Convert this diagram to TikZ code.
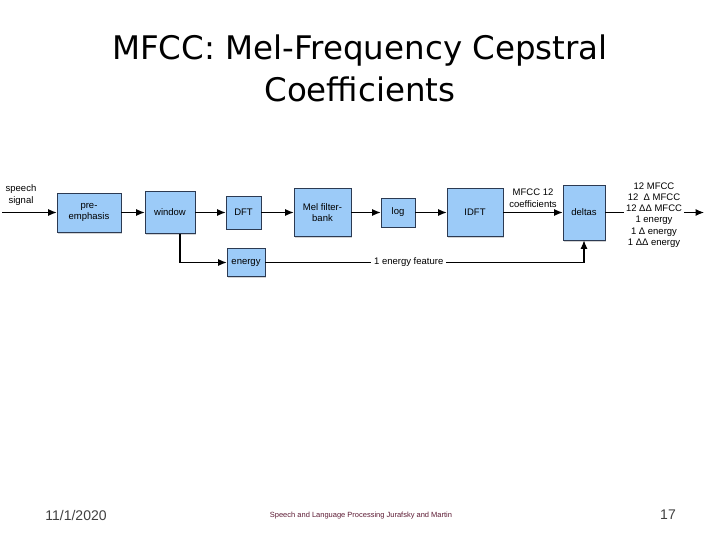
\documentclass[tikz,border=0pt]{standalone}
\usepackage{fontspec}
\setmainfont{Liberation Sans}
\newfontfamily\titlefont{DejaVu Sans}
\definecolor{BoxFill}{HTML}{9CCBF8}
\definecolor{BoxEdge}{HTML}{2C3A52}
\definecolor{FootRed}{HTML}{5C1A33}
\usetikzlibrary{arrows.meta,calc,positioning,shadows}

\begin{document}
\begin{tikzpicture}[x=1pt,y=-1pt,>={Latex[length=8.5pt,width=7pt]},
  blk/.style={draw=BoxEdge,fill=BoxFill,line width=0.7pt,align=center,inner sep=1pt,
    font=\fontsize{9.5}{11}\selectfont,
    drop shadow={shadow xshift=1pt,shadow yshift=-1.5pt,opacity=0.35}},
  lbl/.style={align=center,font=\fontsize{9.5}{11.5}\selectfont,inner sep=1.5pt},
  flow/.style={->,line width=1.1pt}]
  \useasboundingbox (0,0) rectangle (720,540);
  \node[align=center,font=\titlefont\fontsize{32.5}{42}\selectfont] (title) at (360,68) {MFCC: Mel-Frequency Cepstral\\Coefficients};
  % processing chain
  \node[blk,minimum width=64pt,minimum height=39pt] (pre) at (89,212.5) {pre-\\emphasis};
  \node[blk,minimum width=50pt,minimum height=42pt] (win) at (170,212.5) {window};
  \node[blk,minimum width=35pt,minimum height=33pt] (dft) at (243.5,212.5) {DFT};
  \node[blk,minimum width=57pt,minimum height=48pt] (mel) at (322.5,212.5) {Mel filter-\\bank};
  \node[blk,minimum width=34pt,minimum height=29pt] (log) at (398,212.5) {log};
  \node[blk,minimum width=56pt,minimum height=48pt] (idft) at (475,212.5) {IDFT};
  \node[blk,minimum width=42pt,minimum height=55pt] (deltas) at (584,212.5) {deltas};
  \node[blk,minimum width=38pt,minimum height=28pt] (energy) at (246,262.5) {energy};
  \node[lbl] (sig) at (21,195) {speech\\signal};
  \node[lbl,font=\fontsize{9.5}{11.3}\selectfont,inner xsep=2pt] (feats) at (654,215)
    {12 MFCC\\12 \ Δ MFCC\\12 ΔΔ MFCC\\1 energy\\1 Δ energy\\1 ΔΔ energy};
  \coordinate (src) at (2,212.5);
  \coordinate (out) at (704,212.5);
  % connectors
  \draw[flow] (src) -- (pre);
  \draw[flow] (pre) -- (win);
  \draw[flow] (win) -- (dft);
  \draw[flow] (dft) -- (mel);
  \draw[flow] (mel) -- (log);
  \draw[flow] (log) -- (idft);
  \draw[flow] (idft) -- node[lbl,above=3pt] {MFCC 12\\coefficients} (deltas);
  \draw[flow] ([xshift=10pt]win.south) |- (energy.west);
  \draw[flow] (energy.east) -- node[lbl,fill=white,pos=0.45,inner xsep=3pt] {1 energy feature} (energy.east -| deltas.south) -- (deltas.south);
  \draw[line width=1.1pt] (deltas.east) -- (feats.west |- deltas.east);
  \draw[flow] (feats.east |- deltas.east) -- (out);
  % footer
  \node[text=black!75,font=\fontsize{14}{16}\selectfont] (date) at (76,515) {11/1/2020};
  \node[text=FootRed,font=\fontsize{7.5}{9}\selectfont] (credit) at (361,516) {Speech and Language Processing Jurafsky and Martin};
  \node[text=black!75,font=\fontsize{14}{16}\selectfont] (page) at (668,515) {17};
\end{tikzpicture}
\end{document}
